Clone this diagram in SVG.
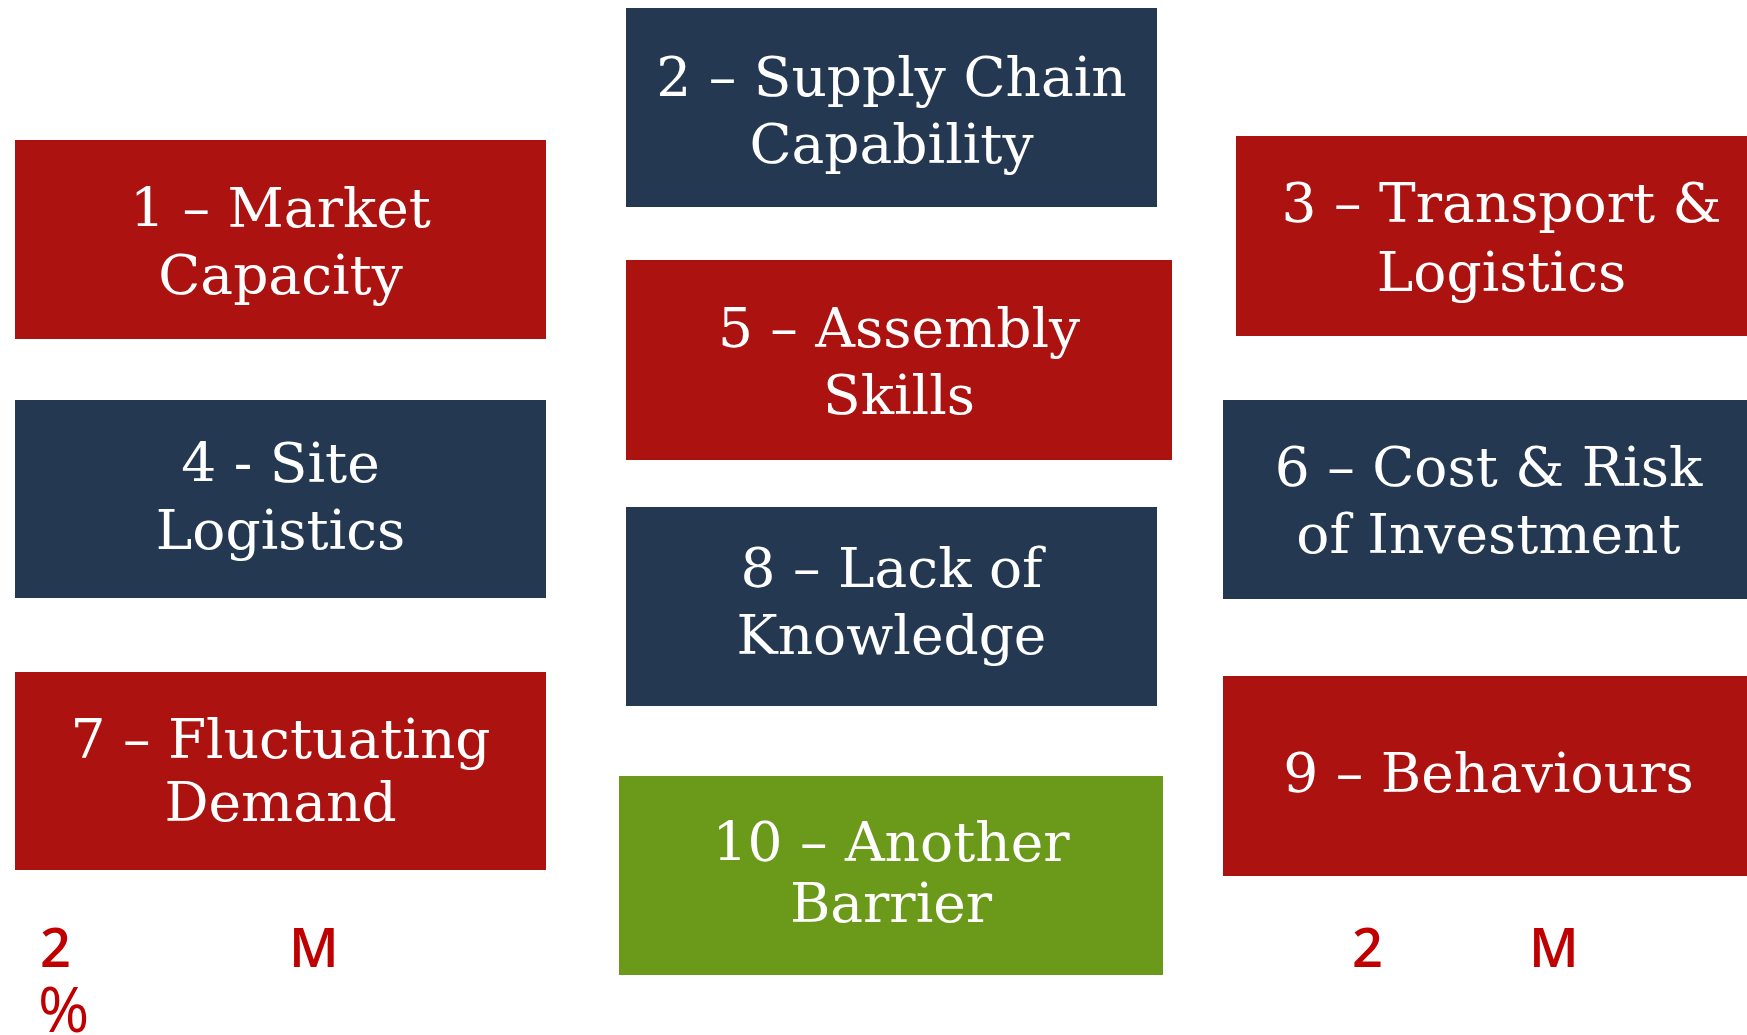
<svg xmlns="http://www.w3.org/2000/svg" width="1747" height="1035" viewBox="0 0 1747 1035">
<style>
.red{fill:#AB1210}
.navy{fill:#243951}
.green{fill:#6B991A}
.lbl{font-family:"DejaVu Serif","Liberation Serif",serif;font-size:55px;fill:#ffffff;text-anchor:middle}
.note{font-family:"Open Sans","Noto Sans",sans-serif;font-size:54px;font-weight:600;fill:#C00000}
.pct{font-size:62px;font-weight:400}
</style>
<rect width="1747" height="1035" fill="#ffffff"/>
<g id="connectors"/>
<g id="node1"><rect class="red" x="15" y="140" width="531" height="199"/><text class="lbl" x="280.5" y="227">1 – Market</text><text class="lbl" x="280.5" y="294">Capacity</text></g>
<g id="node2"><rect class="navy" x="626" y="8" width="531" height="199"/><text class="lbl" x="891.5" y="96">2 – Supply Chain</text><text class="lbl" x="891.5" y="163">Capability</text></g>
<g id="node3"><rect class="red" x="1236" y="136" width="531" height="200"/><text class="lbl" x="1501.5" y="222">3 – Transport &amp;</text><text class="lbl" x="1501.5" y="291">Logistics</text></g>
<g id="node4"><rect class="navy" x="15" y="400" width="531" height="198"/><text class="lbl" x="280.5" y="482">4 - Site</text><text class="lbl" x="280.5" y="549">Logistics</text></g>
<g id="node5"><rect class="red" x="626" y="260" width="546" height="200"/><text class="lbl" x="899" y="347">5 – Assembly</text><text class="lbl" x="899" y="414">Skills</text></g>
<g id="node6"><rect class="navy" x="1223" y="400" width="531" height="199"/><text class="lbl" x="1488.5" y="486">6 – Cost &amp; Risk</text><text class="lbl" x="1488.5" y="553">of Investment</text></g>
<g id="node7"><rect class="red" x="15" y="672" width="531" height="198"/><text class="lbl" x="280.5" y="758">7 – Fluctuating</text><text class="lbl" x="280.5" y="821">Demand</text></g>
<g id="node8"><rect class="navy" x="626" y="507" width="531" height="199"/><text class="lbl" x="891.5" y="587">8 – Lack of</text><text class="lbl" x="891.5" y="654">Knowledge</text></g>
<g id="node9"><rect class="red" x="1223" y="676" width="531" height="200"/><text class="lbl" x="1488.5" y="792">9 – Behaviours</text></g>
<g id="node10"><rect class="green" x="619" y="776" width="544" height="199"/><text class="lbl" x="891" y="861">10 – Another</text><text class="lbl" x="891" y="922">Barrier</text></g>
<g id="notes">
<text class="note" x="40" y="967">2</text>
<text class="note pct" x="38" y="1032">%</text>
<text class="note" x="289" y="967">M</text>
<text class="note" x="1352" y="967">2</text>
<text class="note" x="1529" y="967">M</text>
</g>
</svg>
